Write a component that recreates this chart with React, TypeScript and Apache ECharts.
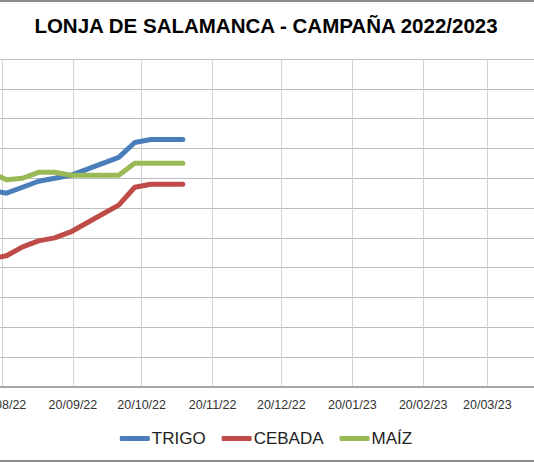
import { useEffect, useRef } from 'react';
import * as echarts from 'echarts';

// sesiones semanales (lunes)
const dates = [
  '2022-08-15', '2022-08-22', '2022-08-29', '2022-09-05', '2022-09-12',
  '2022-09-19', '2022-09-26', '2022-10-03', '2022-10-10', '2022-10-17',
  '2022-10-24', '2022-10-31', '2022-11-07'
];
const trigo = [316, 315, 317, 319, 320, 321, 323, 325, 327, 332, 333, 333, 333];
const cebada = [293, 294, 297, 299, 300, 302, 305, 308, 311, 317, 318, 318, 318];
const maiz = [322, 319.5, 320, 322, 322, 321, 321, 321, 321, 325, 325, 325, 325];

const tickDates = [
  '2022-07-20', '2022-08-20', '2022-09-20', '2022-10-20', '2022-11-20', '2022-12-20',
  '2023-01-20', '2023-02-20', '2023-03-20', '2023-04-20', '2023-05-20'
];

const seriesNames = ['TRIGO', 'CEBADA', 'MAÍZ'];
const seriesColors = ['#4A7EBB', '#BE4B48', '#98B954'];

const toTime = (s: string) => {
  const [y, m, d] = s.split('-').map(Number);
  return Date.UTC(y, m - 1, d);
};

const pad = (n: number) => (n < 10 ? '0' + n : '' + n);

const fmtDate = (v: number) => {
  const d = new Date(v);
  return pad(d.getUTCDate()) + '/' + pad(d.getUTCMonth() + 1) + '/' + pad(d.getUTCFullYear() % 100);
};

const LonjaChart = () => {
  const chartRef = useRef<HTMLDivElement>(null);

  useEffect(() => {
    if (!chartRef.current) return;
    const chart = echarts.init(chartRef.current, undefined, { renderer: 'svg' });

    const ticks = tickDates.map(toTime);
    const values = [trigo, cebada, maiz];

    const option: echarts.EChartsOption = {
      animation: false,
      backgroundColor: '#fff',
      title: {
        text: 'LONJA DE SALAMANCA - CAMPAÑA 2022/2023',
        left: 'center',
        top: 15,
        padding: 0,
        textStyle: {
          fontFamily: 'Liberation Sans',
          fontSize: 20.5,
          fontWeight: 'bold',
          color: '#000'
        }
      },
      legend: {
        data: seriesNames,
        left: 'center',
        top: 425,
        icon: 'roundRect',
        itemWidth: 30,
        itemHeight: 5,
        itemGap: 16,
        textStyle: {
          fontFamily: 'Liberation Sans',
          fontSize: 17,
          color: '#222',
          padding: [0, 0, 0, -3]
        }
      },
      grid: {
        left: 131,
        right: 105,
        top: 59,
        bottom: 75
      },
      xAxis: {
        type: 'value',
        min: ticks[0],
        max: ticks[ticks.length - 1],
        axisLine: { show: true, lineStyle: { color: '#a6a6a6', width: 2 } },
        axisTick: { show: false, customValues: ticks },
        axisLabel: {
          customValues: ticks,
          formatter: (v: number) => fmtDate(v),
          fontFamily: 'Liberation Sans',
          fontSize: 12.5,
          color: '#333',
          margin: 11
        },
        splitLine: { show: true, lineStyle: { color: '#d3d3d3', width: 1 } }
      },
      yAxis: {
        type: 'value',
        min: 250,
        max: 360,
        interval: 10,
        axisLine: { show: false },
        axisTick: { show: false },
        axisLabel: { fontFamily: 'Liberation Sans', fontSize: 12, color: '#333' },
        splitLine: { show: true, lineStyle: { color: '#bdbdbd', width: 1 } }
      },
      series: seriesNames.map((name, i) => ({
        name,
        type: 'line',
        showSymbol: false,
        symbol: 'none',
        color: seriesColors[i],
        lineStyle: { width: 5, color: seriesColors[i], cap: 'round', join: 'round' },
        data: dates.map((d, j) => [toTime(d), values[i][j]])
      }))
    };

    chart.setOption(option);

    return () => {
      chart.dispose();
    };
  }, []);

  return (
    <div
      style={{
        position: 'fixed',
        left: 0,
        top: 0,
        width: 534,
        height: 462,
        overflow: 'hidden',
        background: '#fff'
      }}
    >
      <div
        ref={chartRef}
        style={{ position: 'absolute', left: -200, top: 0, width: 932, height: 462 }}
      />
      <div style={{ position: 'absolute', left: 0, top: 0, width: 534, height: 2, background: '#8c8c8c' }} />
      <div style={{ position: 'absolute', left: 0, top: 460, width: 534, height: 2, background: '#8c8c8c' }} />
    </div>
  );
};

export default function App() {
  return <LonjaChart />;
}
